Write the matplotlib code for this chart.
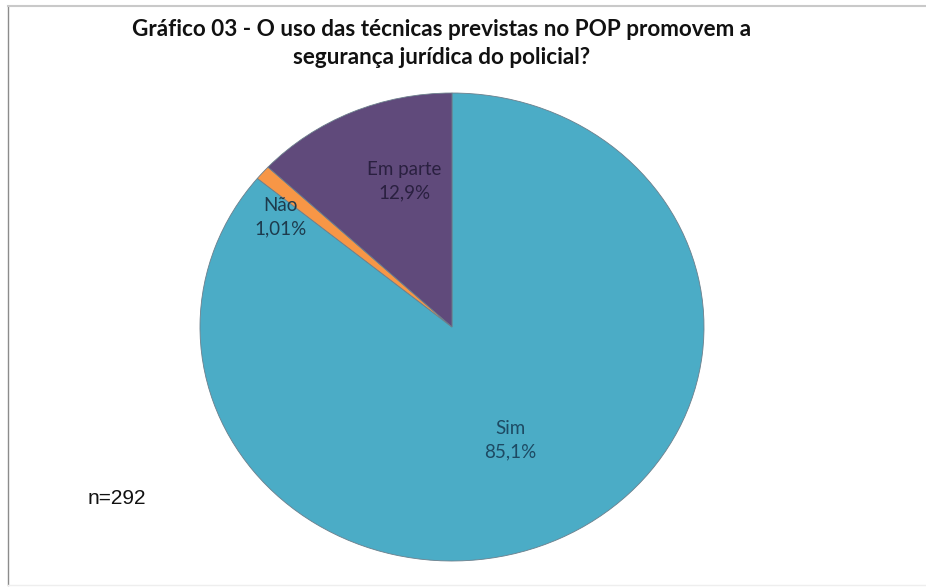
import matplotlib
matplotlib.use("Agg")
import matplotlib.pyplot as plt
from matplotlib.lines import Line2D

categories = ["Sim", "Não", "Em parte"]
values = [85.1, 1.01, 12.9]
value_labels = ["85,1%", "1,01%", "12,9%"]
colors = ["#4BACC6", "#F79646", "#604A7B"]
text_colors = ["#1d4a63", "#1d3a4c", "#2a2040"]
# label positions in pie axes coords (layout)
label_pos = [(0.23, -0.485), (-0.68, 0.47), (-0.19, 0.625)]

W, H = 926, 587
fig = plt.figure(figsize=(W / 100, H / 100), dpi=100)
fig.patch.set_facecolor("white")

# frame lines
fig.add_artist(Line2D([8 / W, 8 / W], [1 - 6 / H, 1 - 585 / H], color="#8c8c8c", lw=1.0))
fig.add_artist(Line2D([8 / W, 1.0], [1 - 6 / H, 1 - 6 / H], color="#c9c9c9", lw=1.5))
fig.add_artist(Line2D([8 / W, 1.0], [1 - 585 / H, 1 - 585 / H], color="#eeeeee", lw=1.0))

cx, cy, rx, ry = 452, 327, 252, 234
ax = fig.add_axes([(cx - rx) / W, 1 - (cy + ry) / H, 2 * rx / W, 2 * ry / H])
ax.pie(values, colors=colors, startangle=90, counterclock=False, radius=1,
       wedgeprops=dict(edgecolor="#6b7f8c", linewidth=0.6))
ax.set_aspect("auto")
ax.set_xlim(-1, 1)
ax.set_ylim(-1, 1)
ax.axis("off")

for cat, vl, tc, (px, py) in zip(categories, value_labels, text_colors, label_pos):
    ax.text(px, py, f"{cat}\n{vl}", ha="center", va="center", fontsize=13.5,
            family="Lato", color=tc, linespacing=1.45)

fig.text(442 / W, 1 - 30 / H, "Gráfico 03 - O uso das técnicas previstas no POP promovem a",
         ha="center", va="center", fontsize=16.2, fontweight="bold", family="Lato", color="#111111")
fig.text(442 / W, 1 - 57 / H, "segurança jurídica do policial?",
         ha="center", va="center", fontsize=16.2, fontweight="bold", family="Lato", color="#111111")

fig.text(117 / W, 1 - 498 / H, "n=292", ha="center", va="center", fontsize=15,
         family="Liberation Sans", color="#111111")

fig.savefig("out.png", dpi=100, facecolor="white")
